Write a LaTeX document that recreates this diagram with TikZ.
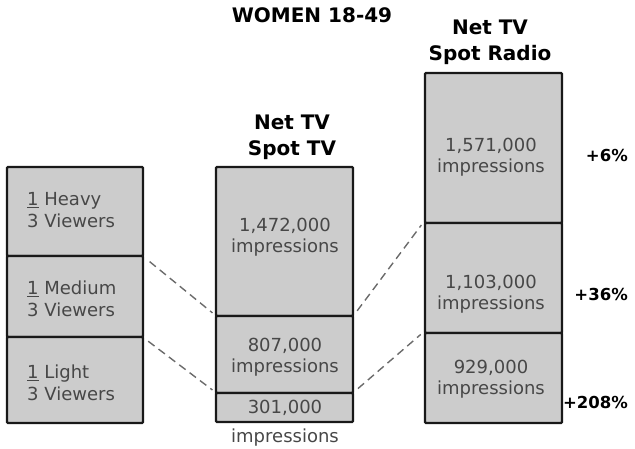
\documentclass[tikz,border=0pt]{standalone}
\usepackage{fontspec}
\setmainfont{DejaVu Sans}
\begin{document}
\begin{tikzpicture}[x=1pt,y=-1pt,
  seg/.style={draw=black!90,line width=2.4pt,fill=black!20,rounded corners=1pt,inner sep=0pt},
  body/.style={text=black!72,align=center,inner sep=0pt,font=\fontsize{18}{20.5}\selectfont},
  lbody/.style={text=black!72,align=left,anchor=west,inner sep=0pt,font=\fontsize{18}{22}\selectfont},
  hdr/.style={align=center,inner sep=0pt,font=\fontsize{20}{26}\selectfont\bfseries},
  pct/.style={anchor=east,inner sep=0pt,font=\fontsize{16.5}{20}\selectfont\bfseries},
  link/.style={draw=black!58,line width=1.4pt,dash pattern=on 8pt off 5pt}]
\useasboundingbox (0,0) rectangle (635,448);
% title
\node[hdr] (title) at (312,15) {WOMEN 18-49};
% left column
\node[seg,minimum width=136,minimum height=89] (heavy) at (75,211.5) {};
\node[seg,minimum width=136,minimum height=81] (medium) at (75,296.5) {};
\node[seg,minimum width=136,minimum height=86] (light) at (75,380) {};
\node[lbody] (theavy) at (27,210) {\underline{1} Heavy\\3 Viewers};
\node[lbody] (tmedium) at (27,299) {\underline{1} Medium\\3 Viewers};
\node[lbody] (tlight) at (27,383) {\underline{1} Light\\3 Viewers};
% middle column
\node[hdr] (hmid) at (292,137) {Net TV\\Spot TV};
\node[seg,minimum width=137,minimum height=149] (m1) at (284.5,241.5) {};
\node[seg,minimum width=137,minimum height=77] (m2) at (284.5,354.5) {};
\node[seg,minimum width=137,minimum height=29] (m3) at (284.5,407.5) {};
\node[body] (tm1) at (285,237) {1,472,000\\impressions};
\node[body] (tm2) at (285,357) {807,000\\impressions};
\node[body] (tm3) at (285,408) {301,000};
\node[body] (tm3b) at (285,438) {impressions};
% right column
\node[hdr] (hright) at (490,42) {Net TV\\Spot Radio};
\node[seg,minimum width=137,minimum height=150] (r1) at (493.5,148) {};
\node[seg,minimum width=137,minimum height=110] (r2) at (493.5,278) {};
\node[seg,minimum width=137,minimum height=90] (r3) at (493.5,378) {};
\node[body] (tr1) at (491,157) {1,571,000\\impressions};
\node[body] (tr2) at (491,294) {1,103,000\\impressions};
\node[body] (tr3) at (491,379) {929,000\\impressions};
\node[pct] (p1) at (628,155) {+6\%};
\node[pct] (p2) at (628,294) {+36\%};
\node[pct] (p3) at (628,402) {+208\%};
% connectors
\draw[link,shorten <=7pt,shorten >=3pt] (heavy.south east) -- (m2.north west);
\draw[link,shorten <=5pt,shorten >=3pt] (medium.south east) -- (m3.north west);
\draw[link,shorten <=5pt,shorten >=4pt] (m2.north east) -- (r2.north west);
\draw[link,shorten <=5pt,shorten >=4pt] (m3.north east) -- (r3.north west);
\end{tikzpicture}
\end{document}
